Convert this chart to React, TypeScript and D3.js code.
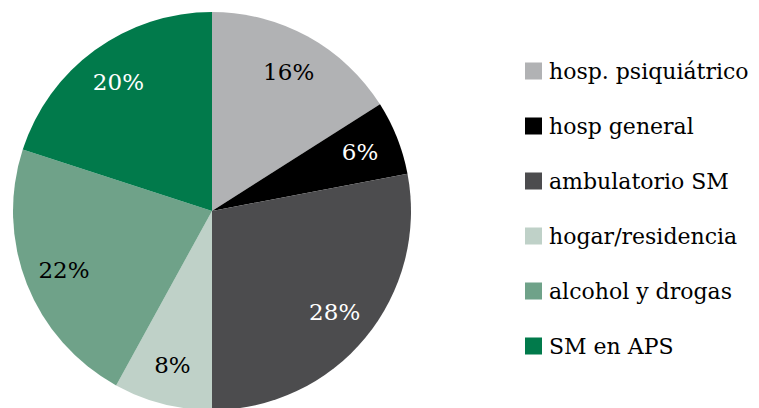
import * as d3 from "d3";
import * as React from "react";

const categories = [
    "hosp. psiquiátrico",
    "hosp general",
    "ambulatorio SM",
    "hogar/residencia",
    "alcohol y drogas",
    "SM en APS",
];
const values = [16, 6, 28, 8, 22, 20];
const colors = ["#b1b2b4", "#000000", "#4c4c4e", "#bfd1c8", "#6fa289", "#017a4b"];
const labelColors = ["#000", "#fff", "#fff", "#000", "#000", "#fff"];

interface Datum {
    label: string;
    value: number;
    color: string;
    labelColor: string;
}

const WIDTH = 759;
const HEIGHT = 408;
// Liberation Serif falls back to a sans face here, so use DejaVu Serif
const FONT = "'DejaVu Serif', serif";

export default function App(): JSX.Element {
    const radius = 199;
    const cx = 212;
    const cy = 211;

    const data: Datum[] = categories.map((c, i) => ({
        label: c,
        value: values[i],
        color: colors[i],
        labelColor: labelColors[i],
    }));

    const arcs = d3.pie<Datum>().sort(null).value(d => d.value)(data);
    const arcGen = d3.arc<d3.PieArcDatum<Datum>>().innerRadius(0).outerRadius(radius);
    const labelArc = d3.arc<d3.PieArcDatum<Datum>>().innerRadius(radius * 0.8).outerRadius(radius * 0.8);

    const legendY = d3.scalePoint<string>().domain(categories).range([71, 346]);

    return (
        <svg
            width={WIDTH}
            height={HEIGHT}
            style={{ position: "absolute", left: 0, top: 0, background: "#fff", fontFamily: FONT }}
        >
            <g transform={`translate(${cx},${cy})`}>
                {arcs.map(a => (
                    <path key={a.data.label} d={arcGen(a) ?? ""} fill={a.data.color} />
                ))}
                {arcs.map(a => {
                    const [x, y] = labelArc.centroid(a);
                    return (
                        <text
                            key={a.data.label}
                            x={x}
                            y={y}
                            textAnchor="middle"
                            dominantBaseline="central"
                            fontSize={23}
                            fill={a.data.labelColor}
                        >
                            {a.data.value}%
                        </text>
                    );
                })}
            </g>
            <g>
                {data.map(d => (
                    <g key={d.label} transform={`translate(525,${legendY(d.label)})`}>
                        <rect x={0} y={-8.5} width={17} height={17} fill={d.color} />
                        <text x={24} y={0} dominantBaseline="central" fontSize={22} fill="#000">
                            {d.label}
                        </text>
                    </g>
                ))}
            </g>
        </svg>
    );
}
